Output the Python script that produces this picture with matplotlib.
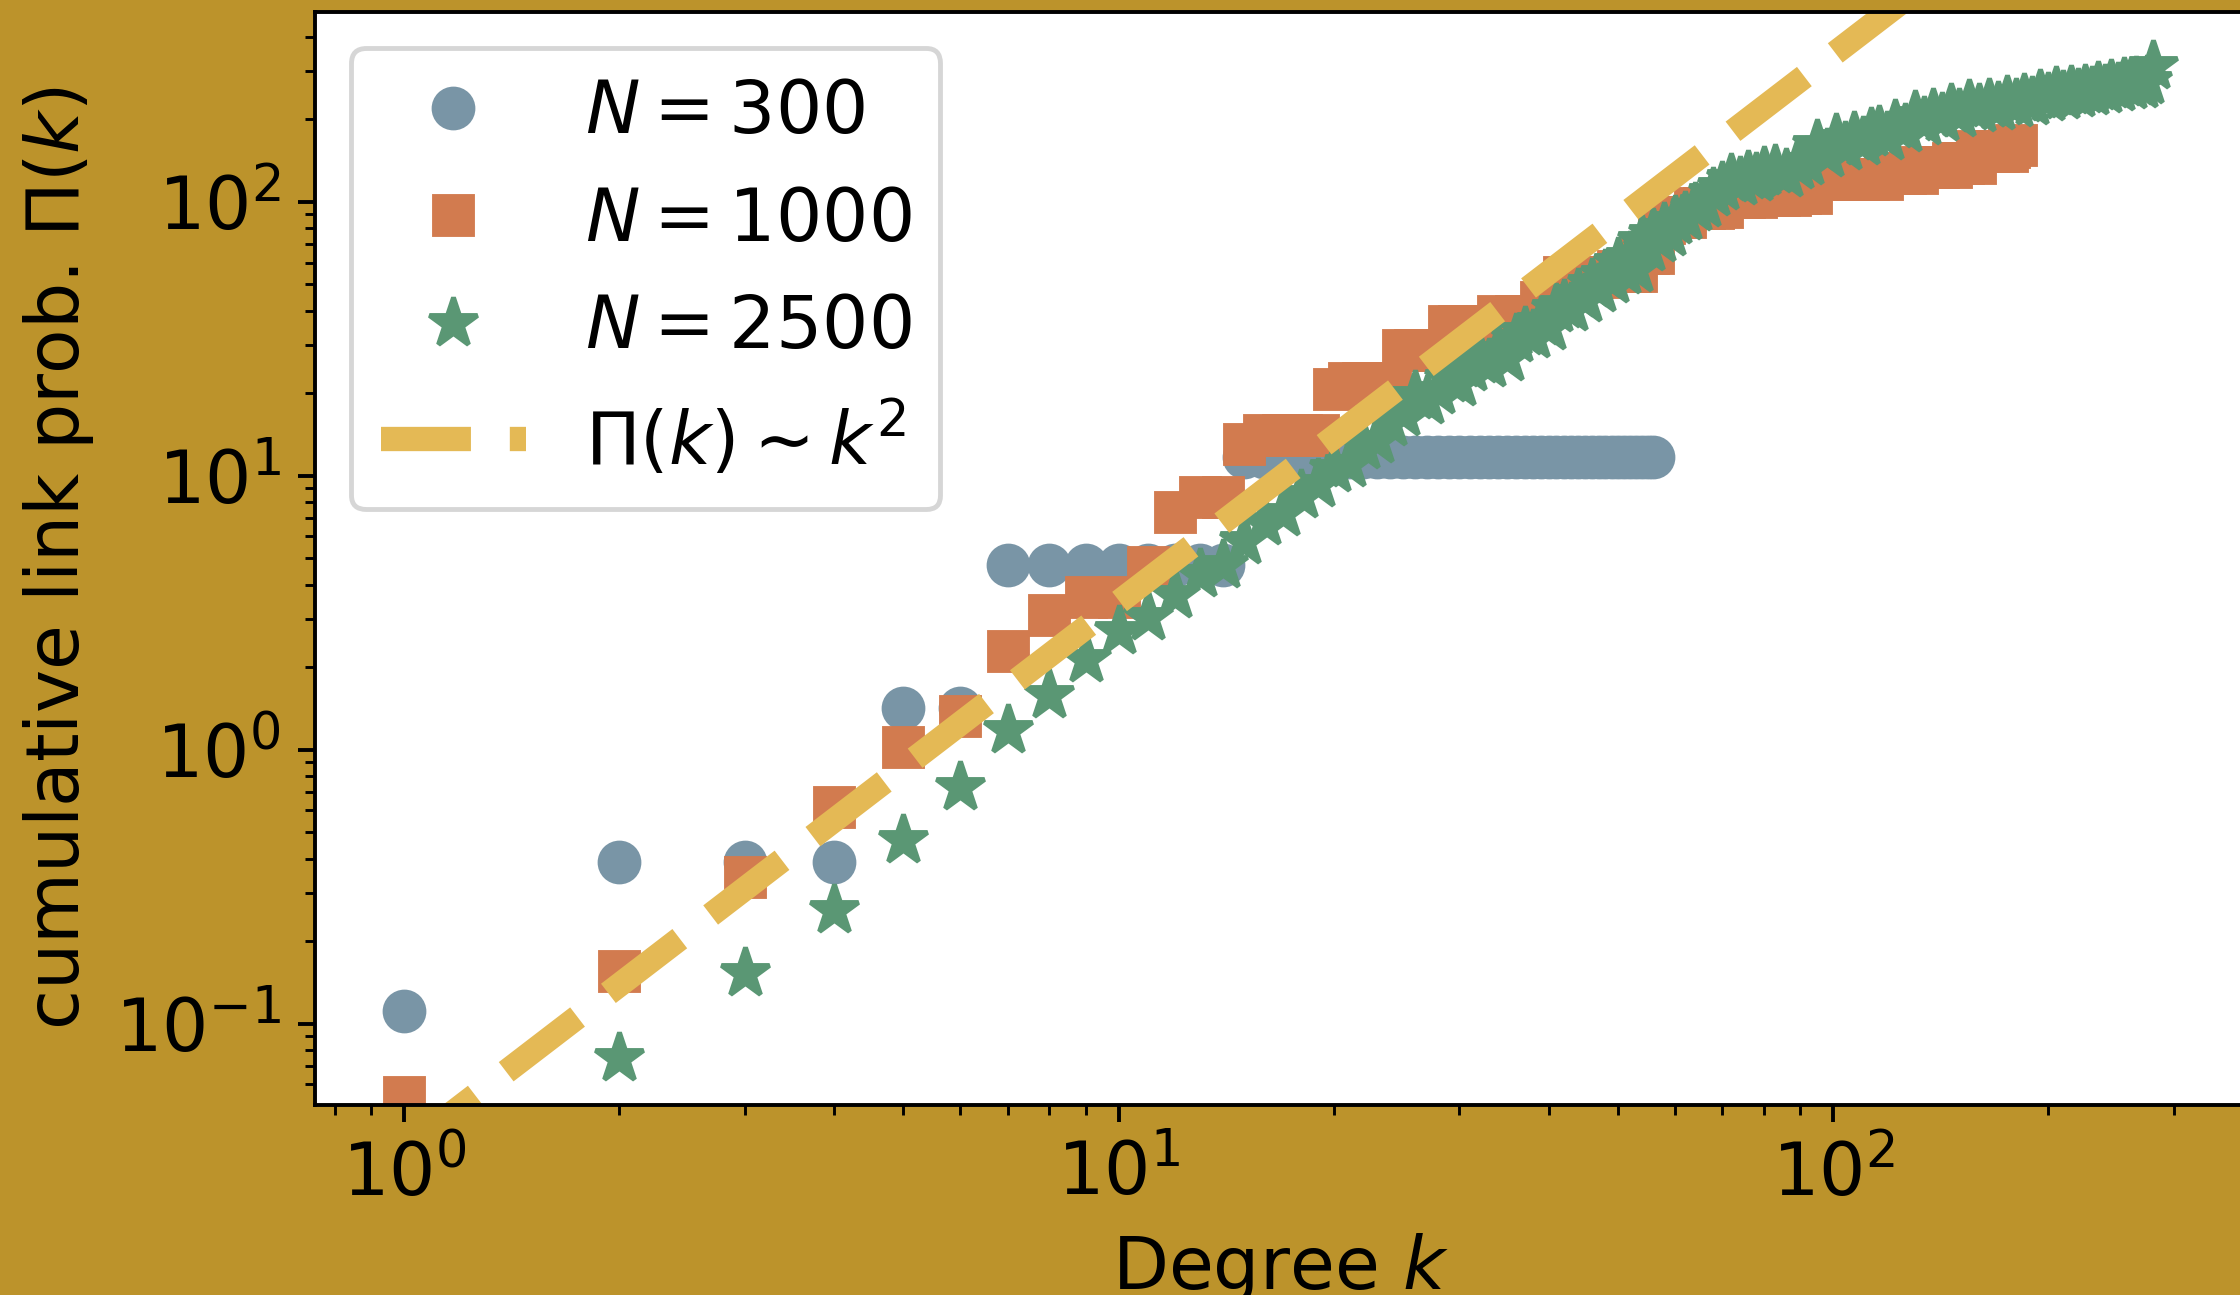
import matplotlib
matplotlib.use("Agg")
import matplotlib.pyplot as plt

# cumulative link probability, N = 300 (circles)
k_300 = [1, 2, 3, 4, 5, 6, 7, 8, 9, 10, 11, 12, 13, 14,
         15, 16, 17, 18, 19, 20, 21, 22, 23, 24, 25, 26, 27, 28, 29, 30,
         31, 32, 33, 34, 35, 36, 37, 38, 39, 40, 41, 42, 43, 44, 45, 46,
         47, 48, 49, 50, 51, 52, 53, 54, 55, 56]
pi_300 = [0.111, 0.39, 0.39, 0.39, 1.42, 1.42, 4.74, 4.74, 4.74, 4.74, 4.74, 4.74, 4.74, 4.74,
          11.7, 11.7, 11.7, 11.7, 11.7, 11.7, 11.7, 11.7, 11.7, 11.7, 11.7, 11.7, 11.7, 11.7,
          11.7, 11.7, 11.7, 11.7, 11.7, 11.7, 11.7, 11.7, 11.7, 11.7, 11.7, 11.7, 11.7, 11.7,
          11.7, 11.7, 11.7, 11.7, 11.7, 11.7, 11.7, 11.7, 11.7, 11.7, 11.7, 11.7, 11.7, 11.7]

# N = 1000 (squares)
k_1000 = [1, 2, 3, 4, 5, 6, 7, 8, 9, 10, 11, 12, 13, 14, 15, 16, 17, 18, 19, 20,
          21, 22, 23, 24, 25, 26, 27, 28, 29, 30, 32, 34, 36, 38, 39, 40, 41, 42,
          44, 46, 48, 50, 52, 53, 54, 55, 56, 57, 58, 60, 62, 64, 66, 68, 70, 72,
          75, 78, 81, 84, 87, 90, 93, 95, 98, 101, 104, 108, 112, 117, 118, 122,
          126, 131, 132, 136, 140, 146, 147, 152, 158, 159, 164, 170, 175, 176, 180]
pi_1000 = [0.054, 0.155, 0.343, 0.618, 1.02, 1.33, 2.30, 3.11, 3.62, 3.62, 4.66, 7.4,
           8.37, 8.37, 13.1, 14.1, 14.1, 14.1, 14.1, 20.7, 21.8, 21.8, 21.8, 21.8,
           28.8, 28.8, 28.8, 28.8, 35.2, 35.2, 35.2, 38.3, 38.3, 38.3, 43.0, 43.0, 43.0,
           53.1, 53.1, 53.1, 53.1, 56, 56, 56, 65, 65, 65, 84, 84, 88, 88, 95, 95, 95,
           96, 104, 104, 104, 106, 106, 106, 108, 108, 121, 121, 121, 121, 121, 121,
           121, 127, 127, 127, 127, 134, 134, 134, 134, 138, 138, 138, 153, 153, 153,
           153, 158, 161]

# N = 2500 (stars)
k_2500 = [2, 3, 4, 5, 6, 7, 8, 9, 10, 11, 12, 13, 14, 15, 16, 17, 18, 19, 20,
          21, 22, 23, 24, 25, 26, 27, 28, 29, 30, 31, 32, 33, 34, 35, 36, 37, 38,
          39, 40, 41, 42, 43, 44, 45, 46, 47, 48, 49, 50, 51, 52, 53, 54, 55, 56,
          57, 58, 59, 60, 62, 64, 66, 68, 70, 72, 74, 76, 78, 80, 83, 86, 89, 92,
          95, 98, 101, 104, 107, 110, 113, 116, 119, 122, 126, 130, 134, 138, 142,
          146, 150, 155, 160, 165, 170, 175, 180, 185, 190, 195, 200, 205, 210, 215,
          220, 225, 230, 235, 240, 245, 250, 255, 260, 265, 270, 275, 280]
pi_2500 = [0.075, 0.153, 0.26, 0.468, 0.73, 1.18, 1.58, 2.15, 2.72, 3.04, 3.68, 4.36,
           4.74, 5.8, 6.75, 7.3, 8.5, 9.3, 10.6, 11.0, 12.8, 13.5, 15.6, 17.0, 19.5,
           18.8, 20.4, 22.5, 21.8, 24.7, 26.5, 25.5, 28.5, 26.8, 31.5, 33.5, 32.6, 36.5,
           35.0, 40.5, 42.0, 41.0, 46.0, 44.0, 50.0, 48.0, 54.0, 52.0, 60.0, 56.0, 63.0,
           57.0, 72.0, 68.0, 76.0, 73.0, 80.0, 77.0, 85.0, 88, 95, 98, 108, 113, 121,
           118, 124, 122, 128, 131, 126, 135, 140, 161, 150, 169, 158, 172, 165, 178,
           182, 172, 190, 185, 205, 196, 210, 202, 218, 210, 225, 218, 228, 222, 234,
           228, 238, 232, 246, 240, 251, 244, 254, 248, 257, 252, 262, 256, 266, 261,
           272, 264, 274, 268, 275, 314]

# guide line Pi(k) ~ k^2, end points
k_fit = [1, 280]
pi_fit = [0.0345, 2705]

plt.rcParams['font.size'] = 15

fig = plt.figure(figsize=(6.4, 3.7), dpi=350, facecolor='#BC932B')
ax = fig.add_axes([0.1406, 0.1467, 0.862, 0.8442])

ax.plot(k_300, pi_300, 'o', ms=8, color='#7995A6', label=r'$N = 300$')
ax.plot(k_1000, pi_1000, 's', ms=8, color='#D27B4F', label=r'$N = 1000$')
ax.plot(k_2500, pi_2500, '*', ms=10.5, color='#5A9774', label=r'$N = 2500$')
ax.plot(k_fit, pi_fit, '--', lw=5, color='#E4B955', label=r'$\Pi(k) \sim k^2$')

ax.set_xscale('log')
ax.set_yscale('log')
ax.set_xlim(0.7507, 378)
ax.set_ylim(0.0504, 494)

ax.set_xlabel(r'Degree $k$')
ax.set_ylabel(r'cumulative link prob. $\Pi(k)$')
ax.legend(loc='upper left')

fig.savefig('out.png', dpi=350, facecolor=fig.get_facecolor())
